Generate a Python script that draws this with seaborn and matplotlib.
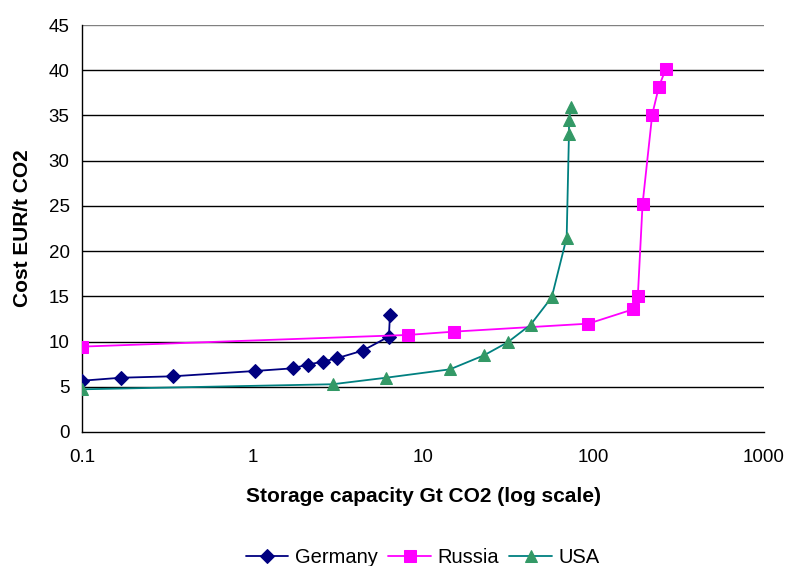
import numpy as np
import pandas as pd
import seaborn as sns
import matplotlib.pyplot as plt
from matplotlib.ticker import FixedLocator, FixedFormatter, NullLocator

# Values
germany_x = [0.1, 0.169, 0.342, 1.04, 1.72, 2.11, 2.58, 3.12, 4.43, 6.31, 6.4]
germany_y = [5.67, 6.0, 6.16, 6.75, 7.04, 7.45, 7.78, 8.15, 9.0, 10.55, 12.98]

russia_x = [0.1, 8.13, 15.3, 93.3, 171, 182, 194, 221, 242, 265]
russia_y = [9.44, 10.73, 11.1, 11.98, 13.57, 15.04, 25.2, 35.1, 38.2, 40.1]

usa_x = [0.1, 2.95, 6.07, 14.4, 22.8, 31.4, 42.8, 56.9, 69.6, 71.8, 71.9, 73.5]
usa_y = [4.72, 5.28, 6.0, 6.93, 8.48, 9.92, 11.87, 14.9, 21.5, 33.0, 34.5, 35.9]

x_ticks = [0.1, 1, 10, 100, 1000]
x_tick_labels = ['0.1', '1', '10', '100', '1000']
y_ticks = list(range(0, 50, 5))

series = [
    ('Germany', germany_x, germany_y, '#000080', '#000080', 'D', 7),
    ('Russia', russia_x, russia_y, '#FF00FF', '#FF00FF', 's', 8),
    ('USA', usa_x, usa_y, '#008080', '#339966', '^', 9),
]

sns.set_style('white')
plt.rcParams['font.family'] = ['Liberation Sans', 'DejaVu Sans']
plt.rcParams['text.color'] = 'black'
plt.rcParams['axes.labelcolor'] = 'black'
plt.rcParams['xtick.color'] = 'black'
plt.rcParams['ytick.color'] = 'black'

fig = plt.figure(figsize=(7.87, 5.66), dpi=100)
ax = fig.add_axes([82 / 787, 1 - 432 / 566, (764 - 82) / 787, (432 - 25) / 566])

for name, xs, ys, line_col, mark_col, marker, msize in series:
    df = pd.DataFrame({'x': xs, 'y': ys})
    sns.lineplot(data=df, x='x', y='y', sort=False, ax=ax, color=line_col,
                 linewidth=1.3, marker=marker, markersize=msize,
                 markerfacecolor=mark_col, markeredgecolor=mark_col,
                 label=name, zorder=3)

ax.set_xscale('log')
ax.set_xlim(0.1, 1000)
ax.set_ylim(0, 45)
ax.xaxis.set_major_locator(FixedLocator(x_ticks))
ax.xaxis.set_major_formatter(FixedFormatter(x_tick_labels))
ax.xaxis.set_minor_locator(NullLocator())
ax.set_yticks(y_ticks)

for y in y_ticks[1:]:
    ax.axhline(y, color='black' if y < 45 else '#808080', linewidth=1, zorder=1)

for side in ['top', 'right']:
    ax.spines[side].set_visible(False)
for side in ['left', 'bottom']:
    ax.spines[side].set_color('black')
    ax.spines[side].set_linewidth(1)

ax.tick_params(axis='both', which='major', direction='out', length=5,
               width=1, color='black', labelcolor='black', labelsize=13.5, pad=4)
ax.tick_params(axis='x', pad=7)

ax.set_xlabel('Storage capacity Gt CO2 (log scale)', fontsize=15,
              fontweight='bold', labelpad=15, color='black')
ax.set_ylabel('Cost EUR/t CO2', fontsize=15, fontweight='bold',
              labelpad=12, color='black')

ax.legend(loc='upper center', bbox_to_anchor=(0.5, -0.24), ncol=3,
          frameon=False, fontsize=14.5, handlelength=2.1, columnspacing=0.5,
          handletextpad=0.35)

fig.savefig('out.png', dpi=100)
